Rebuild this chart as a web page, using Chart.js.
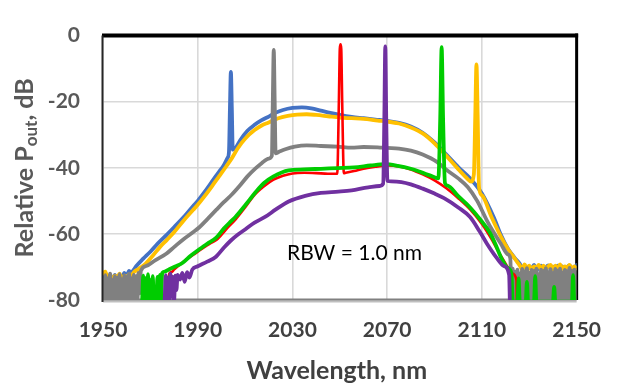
<!DOCTYPE html>
<html>
<head>
<meta charset="utf-8">
<script src="https://cdn.jsdelivr.net/npm/chart.js@4.4.1/dist/chart.umd.min.js"></script>
<style>
html,body{margin:0;padding:0;background:#fff;}
canvas{display:block;}
</style>
</head>
<body>
<canvas id="c" width="619" height="385"></canvas>
<script>
// ---- axis ticks / labels ----
const xTickValues = [1950, 1990, 2030, 2070, 2110, 2150];
const yTickValues = [-80, -60, -40, -20, 0];
const xTitle = "Wavelength, nm";
const yTitleMain = "Relative P";
const yTitleSub = "out";
const yTitleTail = ", dB";
const noteText = "RBW = 1.0 nm";

// ---- series: [wavelength nm, relative dB] ----
const blueSeries = [[1950,-73.5],[1951,-72.5],[1952,-74],[1953,-72.8],[1954,-73.8],[1955,-72.4],[1956,-74],[1957,-72.6],[1958,-73.4],[1959,-71.8],[1960,-72.8],[1961,-71.2],[1962,-71.8],[1963,-70.8],[1964,-69.8],[1967,-67.5],[1970,-65.4],[1973,-63],[1977,-60.2],[1980,-58],[1984,-55],[1988,-51.6],[1990,-50],[1993,-47.2],[1996,-44.2],[1999,-41.2],[2001,-39.2],[2002.6,-37],[2003.2,-35],[2003.6,-22],[2004,-11],[2004.4,-22],[2004.8,-34.5],[2006,-34],[2008,-31.6],[2011,-28.8],[2014,-27],[2017,-25.6],[2020,-24.5],[2023,-23.3],[2026,-22.5],[2030,-21.9],[2034,-21.7],[2038,-22],[2042,-22.7],[2046,-23.4],[2050,-24],[2055,-24.6],[2060,-25],[2065,-25.4],[2070,-25.8],[2075,-26.4],[2080,-27.5],[2085,-29.4],[2090,-32.3],[2095,-36],[2100,-39.8],[2105,-43.2],[2110,-47.8],[2115,-55],[2118,-60.3],[2121,-64.5],[2124,-67.4],[2126,-69],[2127,-70.5],[2128,-69.5],[2129,-71],[2130,-69.8],[2131,-70.6],[2132,-69.4],[2133,-71.2],[2134,-70],[2135,-69.6],[2136,-71],[2137,-70.2],[2138,-69.5],[2139,-70.8],[2140,-69.9],[2141,-71.2],[2142,-69.6],[2143,-70.4],[2144,-69.8],[2145,-71],[2146,-70],[2147,-69.5],[2148,-70.8],[2149,-70.2],[2150,-69.4]];

const orangeSeries = [[1950,-72],[1951,-71.4],[1952,-73.6],[1953,-72.4],[1954,-74],[1955,-72.6],[1956,-73.2],[1957,-72],[1958,-73.8],[1959,-72.6],[1960,-73.2],[1961,-72.2],[1962,-72.6],[1963,-71.6],[1965,-70.6],[1968,-69],[1971,-66.6],[1974,-64],[1977,-61.8],[1980,-59.5],[1984,-56],[1988,-52.8],[1990,-51.2],[1993,-48.5],[1996,-45.6],[1999,-42.6],[2002,-39.6],[2004.5,-37],[2007,-34],[2010,-31.2],[2014,-28.6],[2017,-27.2],[2020,-26.3],[2024,-25],[2028,-24.3],[2032,-23.9],[2036,-23.8],[2040,-24],[2045,-24.4],[2050,-24.8],[2055,-25],[2060,-25.2],[2066,-25.7],[2070,-26],[2075,-26.6],[2080,-27.8],[2085,-29.6],[2090,-32.6],[2095,-36.4],[2100,-40.4],[2104,-43.4],[2105.4,-44.2],[2106.6,-42],[2107.2,-24],[2107.7,-8.7],[2108.2,-24],[2108.8,-46],[2110,-48.3],[2114,-54.8],[2118,-60.8],[2121,-64.6],[2123,-66.6],[2125,-68.6],[2126,-69.6],[2127,-70.8],[2128,-69.2],[2129,-70.4],[2130,-69.6],[2131,-71],[2132,-69.8],[2133,-70.2],[2134,-69.4],[2135,-70.8],[2136,-69.6],[2137,-70.6],[2138,-69.8],[2139,-69.4],[2140,-70.8],[2141,-69.6],[2142,-70.4],[2143,-69.2],[2144,-70.6],[2145,-69.8],[2146,-70.2],[2147,-69.4],[2148,-70.6],[2149,-69.8],[2150,-70.4]];

const greySeries = [[1950,-74],[1950.5,-80.5],[1951,-72.5],[1951.5,-80.5],[1952,-73.5],[1952.5,-80.5],[1953,-72],[1953.5,-80.5],[1954,-74],[1954.5,-80.5],[1955,-72.8],[1955.5,-80.5],[1956,-73.2],[1956.5,-80.5],[1957,-72.2],[1957.5,-80.5],[1958,-73.8],[1958.5,-80.5],[1959,-72.5],[1959.5,-80.5],[1960,-73],[1960.5,-80.5],[1961,-72],[1961.5,-80.5],[1962,-73.5],[1962.5,-80.5],[1963,-72.3],[1963.5,-80.5],[1964,-72.8],[1964.5,-80.5],[1965,-71.8],[1965.5,-78],[1966,-71.2],[1968.3,-69.7],[1972,-68],[1976.7,-66],[1980,-64],[1984,-61.6],[1988,-59.5],[1990.7,-58],[1994,-55.6],[1998,-52.6],[2001,-50.4],[2004.5,-48],[2008,-45.2],[2011,-42.6],[2014.4,-40.2],[2017,-38.6],[2020,-37.2],[2021.3,-36.4],[2021.7,-20],[2022.1,-4.3],[2022.5,-20],[2022.9,-35.6],[2024.2,-35.2],[2027,-34.4],[2031,-33.6],[2036,-33.2],[2042,-33.4],[2049,-33.6],[2055,-33.9],[2060,-33.7],[2066,-33.8],[2070,-34],[2075,-34.2],[2080,-34.8],[2085,-36],[2091,-38.2],[2095,-40.6],[2100,-43.2],[2104,-45.8],[2108,-50],[2112,-55.8],[2115,-59.6],[2118,-63],[2121,-66.2],[2122,-67.4],[2122.5,-80.5],[2123,-70.5],[2123.5,-80.5],[2124,-71.5],[2124.5,-80.5],[2125,-70.8],[2125.5,-80.5],[2126,-72],[2126.5,-80.5],[2127,-70.6],[2127.5,-80.5],[2128,-71.4],[2128.5,-80.5],[2129,-70.4],[2129.5,-80.5],[2130,-71.8],[2130.5,-80.5],[2131,-70.9],[2131.5,-80.5],[2132,-71.2],[2132.5,-80.5],[2133,-70.5],[2133.5,-80.5],[2134,-72.2],[2134.5,-80.5],[2135,-70.8],[2135.5,-80.5],[2136,-71.3],[2136.5,-80.5],[2137,-70.4],[2137.5,-80.5],[2138,-71.6],[2138.5,-80.5],[2139,-70.7],[2139.5,-80.5],[2140,-71.9],[2140.5,-80.5],[2141,-70.6],[2141.5,-80.5],[2142,-71.1],[2142.5,-80.5],[2143,-70.5],[2143.5,-80.5],[2144,-71.7],[2144.5,-80.5],[2145,-70.9],[2145.5,-80.5],[2146,-71.4],[2146.5,-80.5],[2147,-70.3],[2147.5,-80.5],[2148,-71.2],[2148.5,-80.5],[2149,-70.8],[2149.5,-80.5],[2150,-71]];

const redSeries = [[1950,-82],[1976,-82],[1976.5,-73],[1977,-80],[1978,-72],[1979,-71.5],[1980,-70.8],[1984,-68.4],[1988,-66.4],[1992,-64.4],[1995,-63],[1998,-61.8],[2002,-58.6],[2006,-55.6],[2010,-52],[2014,-48.2],[2018,-45.6],[2022,-43.6],[2026,-42.4],[2030,-41.7],[2035,-41.5],[2040,-41.6],[2045,-41.8],[2048.9,-41.8],[2049.6,-20],[2050.0,-4],[2050.3,-2.6],[2050.6,-4],[2051.0,-20],[2051.7,-41.6],[2052.5,-41.5],[2056,-41],[2060,-40.3],[2065,-39.7],[2070,-39.3],[2075,-39.6],[2080,-40.5],[2085,-42],[2090,-43.8],[2095,-46.2],[2100,-49.2],[2105,-52.6],[2110,-57],[2114,-61.5],[2117,-65.4],[2120,-69],[2123,-72],[2124.6,-74],[2124.8,-82],[2150,-82]];

const greenSeries = [[1950,-82],[1966,-82],[1966.5,-80.5],[1967,-72.6],[1967.5,-80.5],[1968,-73.4],[1968.5,-80.5],[1969,-72.2],[1969.5,-80.5],[1970,-74],[1970.5,-80.5],[1971,-72.8],[1971.5,-80.5],[1972.5,-80.5],[1973,-73],[1973.5,-80.5],[1974,-72.4],[1974.5,-80.5],[1975,-71.8],[1976,-71.4],[1978,-70.7],[1980,-70],[1983.5,-68.8],[1987,-66.6],[1990,-65],[1994,-63],[1997.7,-61.2],[2001,-58.4],[2004,-56.2],[2006,-54.8],[2010.3,-51.1],[2014.4,-47.4],[2018,-44.6],[2022,-42.6],[2028.4,-40.8],[2035,-40.5],[2042,-40.3],[2049,-40.1],[2056,-39.9],[2063,-39.3],[2069,-38.9],[2074.5,-39.4],[2080,-40.3],[2084.2,-41.3],[2088,-42.3],[2091.6,-43.2],[2092.4,-25],[2093,-3.5],[2093.6,-25],[2094.4,-44.6],[2095.5,-45.4],[2100,-48.6],[2105,-52],[2109,-55.4],[2113.5,-59.8],[2116,-63.6],[2118,-67],[2121,-70.4],[2122.5,-72],[2123,-80.5],[2125,-80.5],[2125.5,-73.5],[2126,-80.5],[2128.5,-80.5],[2129,-74.5],[2129.5,-80.5],[2132,-80.5],[2132.5,-72.8],[2133,-80.5],[2140,-80.5],[2140.5,-76],[2141,-80.5],[2148,-80.5],[2148.5,-72.5],[2149,-80.5],[2150,-80.5]];

const purpleSeries = [[1950,-82],[1975.5,-82],[1976,-80.5],[1976.5,-72.5],[1977,-80.5],[1977.5,-73.2],[1978,-80.5],[1978.5,-72],[1979,-79],[1979.5,-73],[1980,-80.5],[1980.5,-72.6],[1981,-77],[1981.5,-72.4],[1982.5,-73.8],[1983.5,-71.8],[1984.5,-74.5],[1985.5,-71.6],[1986.5,-73.2],[1987.7,-70.8],[1990,-69.8],[1994,-68.4],[1997.7,-66.9],[2001,-64.2],[2004,-62],[2007,-60.2],[2010.3,-58.5],[2014,-56.6],[2018.6,-54.8],[2023,-52.6],[2028.4,-50.2],[2035.4,-48.5],[2042,-47.6],[2049.4,-47.2],[2055,-46.8],[2062,-45.9],[2066.8,-45.5],[2068.3,-44.8],[2068.8,-25],[2069.2,-3.3],[2069.6,-25],[2070.1,-44],[2071.7,-44.1],[2076,-44.3],[2080,-45],[2085,-46.3],[2090,-47.8],[2094,-49.2],[2100,-52],[2105,-54.9],[2109,-59.2],[2112,-62.8],[2116,-67],[2119.3,-69.7],[2121.5,-72.4],[2121.9,-82],[2150,-82]];

// ---- styling ----
const FONT = "Lato, 'Open Sans', 'Liberation Sans', sans-serif";
const toPts = arr => arr.map(p => ({x: p[0], y: p[1]}));

function ds(data, color, width, order) {
  return {
    data: toPts(data),
    borderColor: color,
    backgroundColor: color,
    borderWidth: width,
    pointRadius: 0,
    fill: false,
    cubicInterpolationMode: 'monotone',
    borderJoinStyle: 'round',
    borderCapStyle: 'round',
    order: order
  };
}

const frameBefore = {
  id: 'frameBefore',
  beforeDatasetsDraw(chart) {
    const {ctx, chartArea: a} = chart;
    ctx.save();
    ctx.strokeStyle = '#bfbfbf';
    ctx.lineWidth = 2;
    ctx.beginPath(); ctx.moveTo(a.left, a.bottom + 1.5); ctx.lineTo(a.right, a.bottom + 1.5); ctx.stroke();
    ctx.strokeStyle = '#808080';
    ctx.lineWidth = 2;
    ctx.beginPath(); ctx.moveTo(a.left, a.bottom - 0.5); ctx.lineTo(a.right, a.bottom - 0.5); ctx.stroke();
    ctx.strokeStyle = '#000';
    ctx.lineWidth = 3;
    ctx.beginPath(); ctx.moveTo(a.right, a.top - 2); ctx.lineTo(a.right, a.bottom); ctx.stroke();
    ctx.restore();
  }
};

const frameAfter = {
  id: 'frameAfter',
  afterDatasetsDraw(chart) {
    const {ctx, chartArea: a} = chart;
    ctx.save();
    ctx.strokeStyle = '#000';
    ctx.lineWidth = 4;
    ctx.beginPath(); ctx.moveTo(a.left - 1, a.top); ctx.lineTo(a.right + 1.5, a.top); ctx.stroke();
    ctx.strokeStyle = '#262626';
    ctx.lineWidth = 2;
    ctx.beginPath(); ctx.moveTo(a.left - 0.5, a.top); ctx.lineTo(a.left - 0.5, a.bottom + 2); ctx.stroke();
    ctx.restore();
  }
};

const textsPlugin = {
  id: 'texts',
  afterDraw(chart) {
    const {ctx, chartArea: a, scales} = chart;
    ctx.save();
    // x title
    ctx.fillStyle = '#404040';
    ctx.font = "bold 25px " + FONT;
    ctx.textAlign = 'center';
    ctx.textBaseline = 'middle';
    ctx.fillText(xTitle, (a.left + a.right) / 2 - 3, 371);
    // y title rotated with subscript
    const mainFont = "bold 25px " + FONT;
    const subFont = "bold 17px " + FONT;
    ctx.font = mainFont; const w1 = ctx.measureText(yTitleMain).width;
    const w3 = ctx.measureText(yTitleTail).width;
    ctx.font = subFont; const w2 = ctx.measureText(yTitleSub).width;
    const total = w1 + w2 + w3;
    ctx.translate(25, (a.top + a.bottom) / 2);
    ctx.rotate(-Math.PI / 2);
    ctx.fillStyle = '#595959';
    ctx.textAlign = 'left';
    ctx.textBaseline = 'middle';
    let x0 = -total / 2;
    ctx.font = mainFont; ctx.fillText(yTitleMain, x0, 0);
    ctx.font = subFont; ctx.fillText(yTitleSub, x0 + w1, 7);
    ctx.font = mainFont; ctx.fillText(yTitleTail, x0 + w1 + w2, 0);
    ctx.setTransform(1, 0, 0, 1, 0, 0);
    // note
    ctx.fillStyle = '#000';
    ctx.font = "21px " + FONT;
    ctx.textAlign = 'center';
    ctx.textBaseline = 'middle';
    ctx.fillText(noteText, scales.x.getPixelForValue(2056.2), scales.y.getPixelForValue(-66));
    ctx.restore();
  }
};

new Chart(document.getElementById('c'), {
  type: 'line',
  data: {
    datasets: [
      ds(blueSeries, '#4472C4', 3.8, 6),
      ds(orangeSeries, '#FFC000', 3.8, 5),
      ds(greySeries, '#808080', 3.8, 4),
      ds(redSeries, '#FF0000', 2.6, 3),
      ds(greenSeries, '#00CC00', 3.8, 2),
      ds(purpleSeries, '#7030A0', 3.8, 1)
    ]
  },
  options: {
    responsive: false,
    animation: false,
    devicePixelRatio: 1,
    layout: {padding: {top: 14, right: 39, left: 0, bottom: 0}},
    plugins: {legend: {display: false}, tooltip: {enabled: false}, title: {display: false}},
    scales: {
      x: {
        type: 'linear',
        min: 1950, max: 2150,
        afterBuildTicks(scale) { scale.ticks = xTickValues.map(v => ({value: v})); },
        afterFit(scale) { scale.height = 85; },
        ticks: {
          color: '#404040',
          font: {family: FONT, size: 21, weight: 'bold'},
          padding: 18,
          maxRotation: 0,
          autoSkip: false,
          callback: v => String(v)
        },
        grid: {color: '#D9D9D9', lineWidth: 1.6, drawTicks: false},
        border: {display: false}
      },
      y: {
        min: -80, max: 0,
        afterBuildTicks(scale) { scale.ticks = yTickValues.map(v => ({value: v})); },
        afterFit(scale) { scale.width = 103; },
        ticks: {
          color: '#595959',
          font: {family: FONT, size: 21, weight: 'bold'},
          padding: 23,
          callback: v => String(v)
        },
        grid: {color: '#D9D9D9', lineWidth: 1.6, drawTicks: false},
        border: {display: false}
      }
    }
  },
  plugins: [frameBefore, frameAfter, textsPlugin]
});
</script>
</body>
</html>
